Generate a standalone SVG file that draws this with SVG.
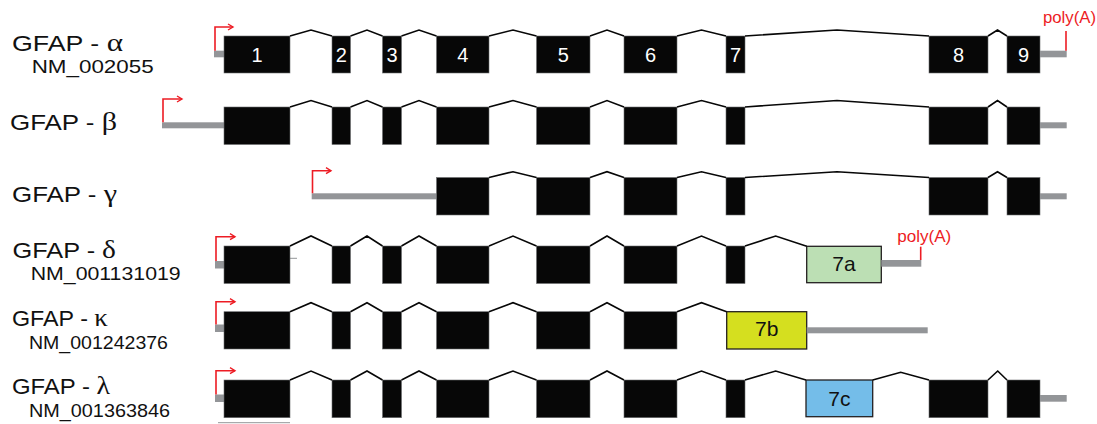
<svg xmlns="http://www.w3.org/2000/svg" width="1097" height="424" viewBox="0 0 1097 424">
<defs>
<style>
.ex{fill:#070707;stroke:#6d6e71;stroke-width:0.6}
.in{fill:none;stroke:#070707;stroke-width:1.6;stroke-linejoin:miter}
.utr{fill:#939598}
.tss{fill:none;stroke:#ed1c24;stroke-width:1.6;marker-end:url(#ah)}
.pa{stroke:#ed1c24;stroke-width:1.6}
.lbl{font-family:"Liberation Sans",Arial,sans-serif;font-size:21.5px;fill:#111}
.nm{font-family:"Liberation Sans",Arial,sans-serif;font-size:18.5px;fill:#111}
.gr{font-family:"Liberation Serif","Times New Roman",serif;font-size:25px}
.num{font-family:"Liberation Sans",Arial,sans-serif;font-size:20px;fill:#fff;text-anchor:middle}
.alt{font-family:"Liberation Sans",Arial,sans-serif;font-size:21px;fill:#111;text-anchor:middle}
.pat{font-family:"Liberation Sans",Arial,sans-serif;font-size:16px;fill:#ed1c24}
.box{stroke:#231f20;stroke-width:1.3}
</style>
<marker id="ah" markerWidth="8" markerHeight="8" refX="6" refY="4" orient="auto" markerUnits="userSpaceOnUse">
<path d="M1,1 L6,4 L1,7" fill="none" stroke="#ed1c24" stroke-width="1.4"/>
</marker>
</defs>
<rect width="1097" height="424" fill="#fff"/>

<!-- GFAP alpha -->
<g id="alpha">
<text class="lbl" x="12" y="51" textLength="111" lengthAdjust="spacingAndGlyphs">GFAP - <tspan class="gr">α</tspan></text>
<text class="nm" x="31.7" y="72.7" textLength="122" lengthAdjust="spacingAndGlyphs">NM_002055</text>
<rect class="utr" x="214" y="50.7" width="10" height="6.6"/>
<path class="tss" d="M215,50.7 V27 H233"/>
<g id="alpha-e1"><rect class="ex" x="224" y="36" width="66" height="37"/><text class="num" x="257" y="61.5">1</text></g>
<g id="alpha-e2"><rect class="ex" x="332" y="36" width="18.5" height="37"/><text class="num" x="341.3" y="61.5">2</text></g>
<g id="alpha-e3"><rect class="ex" x="382.5" y="36" width="19" height="37"/><text class="num" x="392" y="61.5">3</text></g>
<g id="alpha-e4"><rect class="ex" x="436.5" y="36" width="52.5" height="37"/><text class="num" x="462.7" y="61.5">4</text></g>
<g id="alpha-e5"><rect class="ex" x="536.5" y="36" width="53.5" height="37"/><text class="num" x="563.2" y="61.5">5</text></g>
<g id="alpha-e6"><rect class="ex" x="624" y="36" width="53" height="37"/><text class="num" x="650.5" y="61.5">6</text></g>
<g id="alpha-e7"><rect class="ex" x="726" y="36" width="19" height="37"/><text class="num" x="735.5" y="61.5">7</text></g>
<g id="alpha-e8"><rect class="ex" x="929" y="36" width="59" height="37"/><text class="num" x="958.5" y="61.5">8</text></g>
<g id="alpha-e9"><rect class="ex" x="1007" y="36" width="33" height="37"/><text class="num" x="1023.5" y="61.5">9</text></g>
<rect class="utr" x="1040" y="50.7" width="26.7" height="6.6"/>
<line class="pa" x1="1066" y1="31" x2="1066" y2="50.7"/>
<text class="pat" x="1043" y="23" textLength="53" lengthAdjust="spacingAndGlyphs">poly(A)</text>
</g>

<!-- GFAP beta -->
<g id="beta">
<text class="lbl" x="10" y="129.5" textLength="107" lengthAdjust="spacingAndGlyphs">GFAP - <tspan class="gr">β</tspan></text>
<rect class="utr" x="162" y="122.3" width="62" height="6"/>
<path class="tss" d="M163,122.3 V99 H182"/>
<g id="beta-e1"><rect class="ex" x="224" y="107" width="66" height="37.5"/></g>
<g id="beta-e2"><rect class="ex" x="332" y="107" width="18.5" height="37.5"/></g>
<g id="beta-e3"><rect class="ex" x="382.5" y="107" width="19" height="37.5"/></g>
<g id="beta-e4"><rect class="ex" x="436.5" y="107" width="52.5" height="37.5"/></g>
<g id="beta-e5"><rect class="ex" x="536.5" y="107" width="53.5" height="37.5"/></g>
<g id="beta-e6"><rect class="ex" x="624" y="107" width="53" height="37.5"/></g>
<g id="beta-e7"><rect class="ex" x="726" y="107" width="19" height="37.5"/></g>
<g id="beta-e8"><rect class="ex" x="929" y="107" width="59" height="37.5"/></g>
<g id="beta-e9"><rect class="ex" x="1007" y="107" width="33" height="37.5"/></g>
<rect class="utr" x="1040" y="122.3" width="26.7" height="6"/>
</g>

<!-- GFAP gamma -->
<g id="gamma">
<text class="lbl" x="12" y="202" textLength="105" lengthAdjust="spacingAndGlyphs">GFAP - <tspan class="gr">γ</tspan></text>
<rect class="utr" x="311.7" y="193.3" width="124.8" height="6"/>
<path class="tss" d="M312.5,193.3 V170.7 H331"/>
<g id="gamma-e4"><rect class="ex" x="436.5" y="177.5" width="52.5" height="37.5"/></g>
<g id="gamma-e5"><rect class="ex" x="536.5" y="177.5" width="53.5" height="37.5"/></g>
<g id="gamma-e6"><rect class="ex" x="624" y="177.5" width="53" height="37.5"/></g>
<g id="gamma-e7"><rect class="ex" x="726" y="177.5" width="19" height="37.5"/></g>
<g id="gamma-e8"><rect class="ex" x="929" y="177.5" width="59" height="37.5"/></g>
<g id="gamma-e9"><rect class="ex" x="1007" y="177.5" width="33" height="37.5"/></g>
<rect class="utr" x="1040" y="193.3" width="26.7" height="6"/>
</g>

<!-- GFAP delta -->
<g id="delta">
<text class="lbl" x="12.5" y="257.5" textLength="103.5" lengthAdjust="spacingAndGlyphs">GFAP - <tspan class="gr">δ</tspan></text>
<text class="nm" x="30.7" y="280" textLength="150" lengthAdjust="spacingAndGlyphs">NM_001131019</text>
<rect class="utr" x="215" y="261" width="9" height="7.5"/>
<path class="tss" d="M216,261 V236.7 H235"/>
<line x1="289" y1="258.3" x2="297" y2="258.3" stroke="#939598" stroke-width="1"/>
<g id="delta-e1"><rect class="ex" x="224" y="246" width="66" height="37.5"/></g>
<g id="delta-e2"><rect class="ex" x="332" y="246" width="18.5" height="37.5"/></g>
<g id="delta-e3"><rect class="ex" x="382.5" y="246" width="19" height="37.5"/></g>
<g id="delta-e4"><rect class="ex" x="436.5" y="246" width="52.5" height="37.5"/></g>
<g id="delta-e5"><rect class="ex" x="536.5" y="246" width="53.5" height="37.5"/></g>
<g id="delta-e6"><rect class="ex" x="624" y="246" width="53" height="37.5"/></g>
<g id="delta-e7"><rect class="ex" x="726" y="246" width="19" height="37.5"/></g>
<g id="delta-e7a"><rect class="box" x="806.7" y="246.3" width="74.6" height="36.4" fill="#bcdfb4"/><text class="alt" x="844" y="271">7a</text></g>
<rect class="utr" x="881.3" y="260" width="40" height="6.7"/>
<line class="pa" x1="920.7" y1="246.7" x2="920.7" y2="260"/>
<text class="pat" x="897.3" y="242" textLength="54" lengthAdjust="spacingAndGlyphs">poly(A)</text>
</g>

<!-- GFAP kappa -->
<g id="kappa">
<text class="lbl" x="12" y="326" textLength="96" lengthAdjust="spacingAndGlyphs">GFAP - <tspan class="gr">κ</tspan></text>
<text class="nm" x="29" y="349.3" textLength="139" lengthAdjust="spacingAndGlyphs">NM_001242376</text>
<rect class="utr" x="215" y="324.5" width="9" height="7.5"/>
<path class="tss" d="M216,324.5 V301.7 H235"/>
<g id="kappa-e1"><rect class="ex" x="224" y="311.7" width="66" height="37.3"/></g>
<g id="kappa-e2"><rect class="ex" x="332" y="311.7" width="18.5" height="37.3"/></g>
<g id="kappa-e3"><rect class="ex" x="382.5" y="311.7" width="19" height="37.3"/></g>
<g id="kappa-e4"><rect class="ex" x="436.5" y="311.7" width="52.5" height="37.3"/></g>
<g id="kappa-e5"><rect class="ex" x="536.5" y="311.7" width="53.5" height="37.3"/></g>
<g id="kappa-e6"><rect class="ex" x="624" y="311.7" width="53" height="37.3"/></g>
<g id="kappa-e7b"><rect class="box" x="726.7" y="311.7" width="80" height="37.3" fill="#d5df1f"/><text class="alt" x="766.7" y="336">7b</text></g>
<rect class="utr" x="806.7" y="327.3" width="121" height="6"/>
</g>

<!-- GFAP lambda -->
<g id="lambda">
<text class="lbl" x="12" y="394" textLength="98" lengthAdjust="spacingAndGlyphs">GFAP - <tspan class="gr">λ</tspan></text>
<text class="nm" x="29" y="417.3" textLength="141" lengthAdjust="spacingAndGlyphs">NM_001363846</text>
<rect class="utr" x="215" y="394.5" width="9" height="7.5"/>
<path class="tss" d="M216,394.5 V370.7 H235"/>
<line x1="218" y1="422.7" x2="290" y2="422.7" stroke="#939598" stroke-width="1"/>
<g id="lambda-e1"><rect class="ex" x="224" y="380" width="66" height="37.7"/></g>
<g id="lambda-e2"><rect class="ex" x="332" y="380" width="18.5" height="37.7"/></g>
<g id="lambda-e3"><rect class="ex" x="382.5" y="380" width="19" height="37.7"/></g>
<g id="lambda-e4"><rect class="ex" x="436.5" y="380" width="52.5" height="37.7"/></g>
<g id="lambda-e5"><rect class="ex" x="536.5" y="380" width="53.5" height="37.7"/></g>
<g id="lambda-e6"><rect class="ex" x="624" y="380" width="53" height="37.7"/></g>
<g id="lambda-e7"><rect class="ex" x="726" y="380" width="19" height="37.7"/></g>
<g id="lambda-e7c"><rect class="box" x="806" y="380" width="66.7" height="36.7" fill="#74bde9"/><text class="alt" x="839.3" y="405.5">7c</text></g>
<g id="lambda-e8"><rect class="ex" x="929" y="380" width="59" height="37.7"/></g>
<g id="lambda-e9"><rect class="ex" x="1007" y="380" width="33" height="37.7"/></g>
<rect class="utr" x="1040" y="395" width="26.7" height="6.7"/>
</g>

<!-- splice connectors (introns) -->
<g id="connectors">
<path class="in" d="M290,36 L311,30 L332,36 M350.5,36 L367,30 L382.5,36 M401.5,36 L419,30 L436.5,36 M489,36 L513,30 L536.5,36 M590,36 L607,30 L624,36 M677,36 L701.5,30 L726,36 M745,36 L837,30 L929,36 M988,36 L997.5,30 L1007,36"/>
<path class="in" d="M290,107 L311,100.5 L332,107 M350.5,107 L367,100.5 L382.5,107 M401.5,107 L419,100.5 L436.5,107 M489,107 L513,100.5 L536.5,107 M590,107 L607,100.5 L624,107 M677,107 L701.5,100.5 L726,107 M745,107 L837,100.5 L929,107 M988,107 L997.5,100.5 L1007,107"/>
<path class="in" d="M489,177.5 L513,171.7 L536.5,177.5 M590,177.5 L607,171.7 L624,177.5 M677,177.5 L701.5,171.7 L726,177.5 M745,177.5 L837,171.7 L929,177.5 M988,177.5 L997.5,171.7 L1007,177.5"/>
<path class="in" d="M290,246 L311,236 L332,246 M350.5,246 L367,236 L382.5,246 M401.5,246 L419,236 L436.5,246 M489,246 L513,236 L536.5,246 M590,246 L607,236 L624,246 M677,246 L701.5,236 L726,246 M745,246 L775.7,236 L806.7,246.3"/>
<path class="in" d="M290,311.7 L311,302.7 L332,311.7 M350.5,311.7 L367,302.7 L382.5,311.7 M401.5,311.7 L419,302.7 L436.5,311.7 M489,311.7 L513,302.7 L536.5,311.7 M590,311.7 L607,302.7 L624,311.7 M677,311.7 L701.5,302.7 L726.7,311.7"/>
<path class="in" d="M290,380 L311,371 L332,380 M350.5,380 L367,371 L382.5,380 M401.5,380 L419,371 L436.5,380 M489,380 L513,371 L536.5,380 M590,380 L607,371 L624,380 M677,380 L701.5,371 L726,380 M745,380 L775.7,371 L806,380 M872.7,380 L900.7,372.3 L929,380 M988,380 L997.7,371 L1007,380"/>
</g>
</svg>
